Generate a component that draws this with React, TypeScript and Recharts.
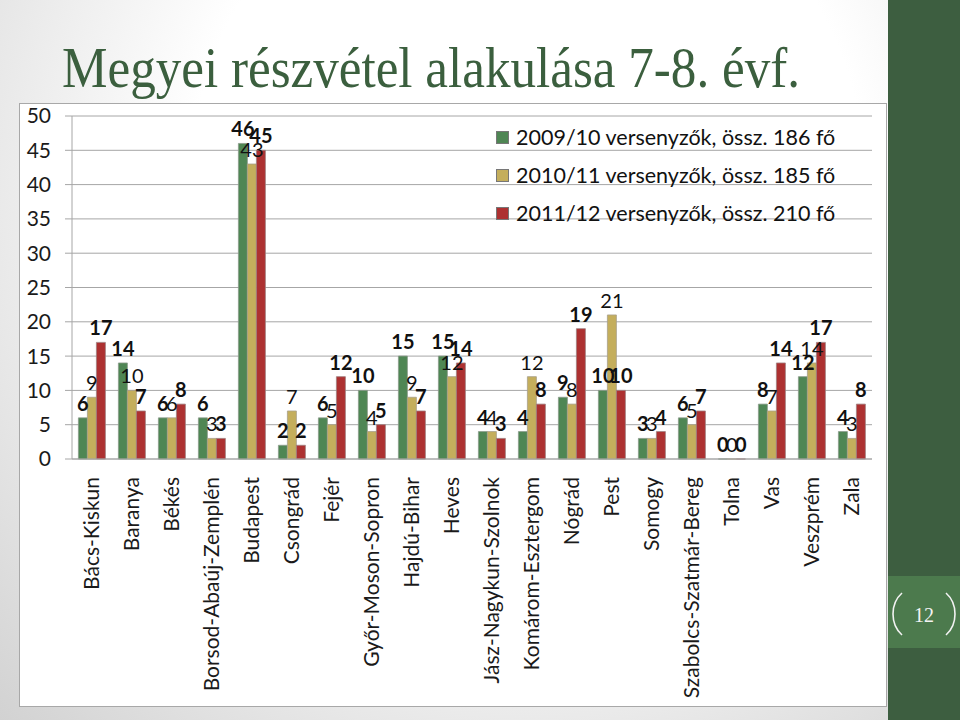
import React from 'react'
import {
  Bar,
  BarChart,
  CartesianGrid,
  LabelList,
  Legend,
  XAxis,
  YAxis,
} from 'recharts'

const counties = [
  'Bács-Kiskun',
  'Baranya',
  'Békés',
  'Borsod-Abaúj-Zemplén',
  'Budapest',
  'Csongrád',
  'Fejér',
  'Győr-Moson-Sopron',
  'Hajdú-Bihar',
  'Heves',
  'Jász-Nagykun-Szolnok',
  'Komárom-Esztergom',
  'Nógrád',
  'Pest',
  'Somogy',
  'Szabolcs-Szatmár-Bereg',
  'Tolna',
  'Vas',
  'Veszprém',
  'Zala',
]

const y2009 = [6, 14, 6, 6, 46, 2, 6, 10, 15, 15, 4, 4, 9, 10, 3, 6, 0, 8, 12, 4]
const y2010 = [9, 10, 6, 3, 43, 7, 5, 4, 9, 12, 4, 12, 8, 21, 3, 5, 0, 7, 14, 3]
const y2011 = [17, 7, 8, 3, 45, 2, 12, 5, 7, 14, 3, 8, 19, 10, 4, 7, 0, 14, 17, 8]

const yTicks = [0, 5, 10, 15, 20, 25, 30, 35, 40, 45, 50]

const seriesNames = [
  '2009/10 versenyzők, össz. 186 fő',
  '2010/11 versenyzők, össz. 185 fő',
  '2011/12 versenyzők, össz. 210 fő',
]

const data = counties.map((name, i) => ({
  name,
  a: y2009[i],
  b: y2010[i],
  c: y2011[i],
}))

const FONT = 'Lato, "Open Sans", sans-serif'

// zero bars still need their "0" label, so give them a hair of height
const tinyForZero = (v: any) => (v === 0 ? 0.01 : 0)

const CountyTick = (props: any) => {
  const { x, y, payload } = props
  return (
    <text
      transform={`translate(${x},${y + 10}) rotate(-90)`}
      textAnchor="end"
      dy="0.35em"
      fontSize={21}
      fontFamily={FONT}
      fill="#1a1a1a"
    >
      {payload.value}
    </text>
  )
}

const LegendBox = (props: any) => {
  const { payload } = props
  return (
    <div style={{ fontFamily: FONT, fontSize: 21.5, color: '#111' }}>
      {payload.map((p: any) => (
        <div
          key={p.value}
          style={{ display: 'flex', alignItems: 'center', height: 38 }}
        >
          <span
            style={{
              width: 13,
              height: 13,
              background: p.color,
              border: '1px solid #777',
              marginRight: 7,
              boxSizing: 'border-box',
            }}
          />
          {p.value}
        </div>
      ))}
    </div>
  )
}

export default function App() {
  return (
    <div
      style={{
        position: 'absolute',
        left: 0,
        top: 0,
        width: 960,
        height: 720,
        overflow: 'hidden',
        background:
          'radial-gradient(ellipse at 55% 25%, #ffffff 45%, #e2e2e2 80%, #d2d2d2 100%)',
      }}
    >
      <div
        style={{
          position: 'absolute',
          left: 19,
          top: 103,
          width: 868,
          height: 604,
          background: '#fff',
          border: '1px solid #a8a8a8',
          boxSizing: 'border-box',
        }}
      />
      <div
        style={{
          position: 'absolute',
          left: 888,
          top: 0,
          width: 72,
          height: 720,
          background: '#3d5e40',
        }}
      />
      <svg
        width={960}
        height={720}
        style={{ position: 'absolute', left: 0, top: 0 }}
      >
        <text
          x={62}
          y={87}
          fontSize={56}
          fontFamily='"Liberation Serif", "DejaVu Serif", serif'
          fill="#3b5f3e"
          textLength={738}
          lengthAdjust="spacingAndGlyphs"
        >
          Megyei részvétel alakulása 7-8. évf.
        </text>
        <rect x={888} y={576} width={72} height={72} fill="#4c7a4d" />
        <path
          d="M902 593 Q893 601 893 614 Q893 627 902 635"
          stroke="#f2f2f2"
          strokeWidth={1.6}
          fill="none"
        />
        <path
          d="M946 593 Q955 601 955 614 Q955 627 946 635"
          stroke="#f2f2f2"
          strokeWidth={1.6}
          fill="none"
        />
        <text
          x={924}
          y={622}
          textAnchor="middle"
          fontSize={20}
          fontFamily='"Liberation Serif", serif'
          fill="#f4f4f4"
        >
          12
        </text>
      </svg>
      <div style={{ position: 'absolute', left: 0, top: 0 }}>
        <BarChart
          width={960}
          height={720}
          data={data}
          margin={{ top: 116, right: 88, bottom: 11, left: 12 }}
          barCategoryGap="16%"
          barGap={0}
        >
          <CartesianGrid vertical={false} stroke="#a6a6a6" />
          <XAxis
            dataKey="name"
            interval={0}
            height={250}
            tick={<CountyTick />}
            tickLine={false}
            axisLine={{ stroke: '#a6a6a6' }}
          />
          <YAxis
            width={60}
            domain={[0, 50]}
            ticks={yTicks}
            interval={0}
            tickSize={7}
            tickMargin={14}
            axisLine={{ stroke: '#a6a6a6' }}
            tickLine={{ stroke: '#a6a6a6' }}
            tick={{ fontSize: 21, fontFamily: FONT, fill: '#1a1a1a' }}
          />
          <Legend
            layout="vertical"
            verticalAlign="middle"
            align="center"
            content={<LegendBox />}
            wrapperStyle={{ position: 'absolute', left: 496, top: 118, width: 380 }}
          />
          <Bar
            dataKey="a"
            name={seriesNames[0]}
            fill="#4f8654"
            stroke="#8a9a8a"
            strokeWidth={0.8}
            minPointSize={tinyForZero}
            isAnimationActive={false}
          >
            <LabelList
              dataKey="a"
              position="top"
              offset={7}
              fontSize={20}
              fontWeight={700}
              fontFamily={FONT}
              fill="#111"
            />
          </Bar>
          <Bar
            dataKey="b"
            name={seriesNames[1]}
            fill="#c4ae5c"
            stroke="#a8a08a"
            strokeWidth={0.8}
            minPointSize={tinyForZero}
            isAnimationActive={false}
          >
            <LabelList
              dataKey="b"
              position="top"
              offset={7}
              fontSize={20}
              fontFamily={FONT}
              fill="#111"
            />
          </Bar>
          <Bar
            dataKey="c"
            name={seriesNames[2]}
            fill="#ad3131"
            stroke="#a08080"
            strokeWidth={0.8}
            minPointSize={tinyForZero}
            isAnimationActive={false}
          >
            <LabelList
              dataKey="c"
              position="top"
              offset={7}
              fontSize={20}
              fontWeight={700}
              fontFamily={FONT}
              fill="#111"
            />
          </Bar>
        </BarChart>
      </div>
    </div>
  )
}
